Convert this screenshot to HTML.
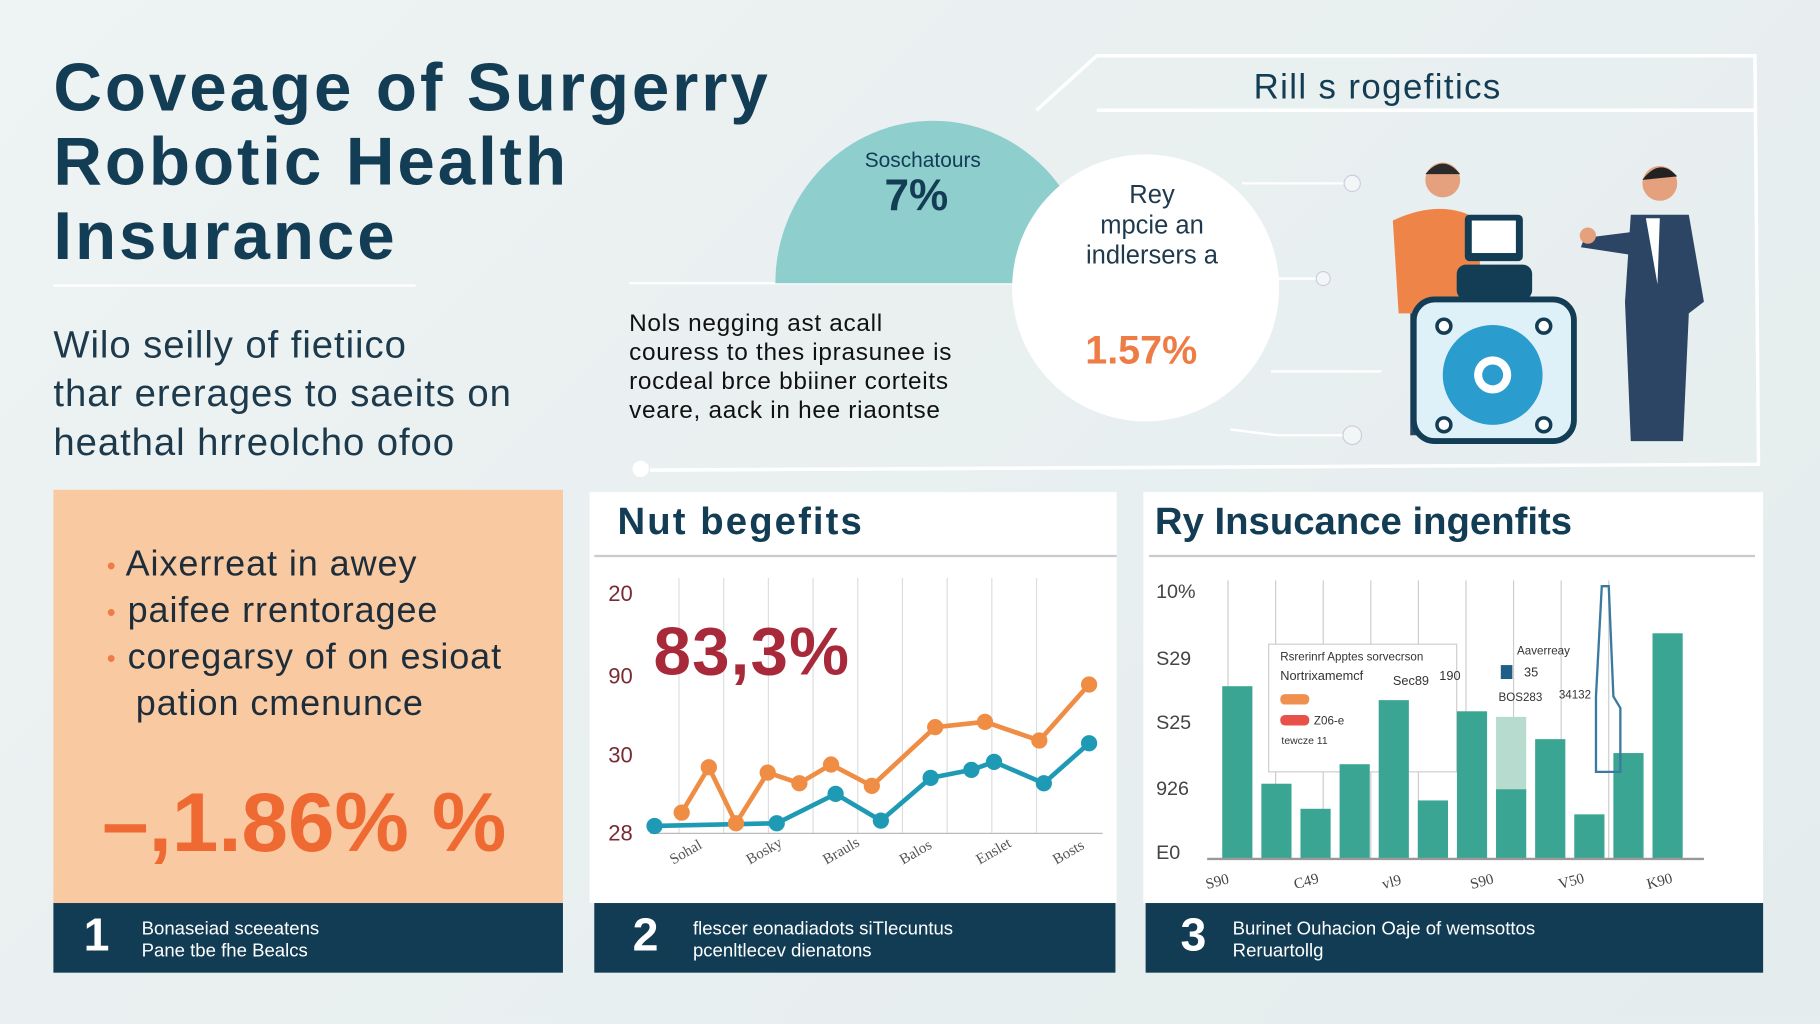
<!DOCTYPE html>
<html><head><meta charset="utf-8">
<style>
html,body{margin:0;padding:0;width:1820px;height:1024px;overflow:hidden;background:#e9f0f1;}
#s{position:absolute;left:0;top:0;width:1568px;height:882px;transform:scale(1.16071);transform-origin:0 0;font-family:"Liberation Sans",sans-serif;background:linear-gradient(135deg,#eef3f3,#e4eced);}
.a{position:absolute;}
.navy{color:#133c55;}
.bl div{height:40px;line-height:40px;white-space:nowrap;}
.bl span{color:#ee7c45;font-size:22px;line-height:22px;vertical-align:middle;}
</style></head><body>
<div id="s">
<div class="a navy" style="left:46px;top:44px;font-size:58px;letter-spacing:2.5px;font-weight:bold;line-height:64px;">Coveage of Surgerry<br>Robotic Health<br>Insurance</div>
<div class="a" style="left:46px;top:245px;width:312px;height:2px;background:#fff;"></div>
<div class="a" style="left:46px;top:276px;font-size:33px;letter-spacing:0.8px;line-height:42px;color:#1d3a4d;">Wilo seilly of fietiico<br>thar ererages to saeits on<br>heathal hrreolcho ofoo</div>

<svg class="a" style="left:0;top:0" width="1568" height="420">
<path d="M893,95 L945,48 L1512,48 L1515,400 L560,405" fill="none" stroke="#fff" stroke-width="3"/>
<line x1="945" y1="95" x2="1512" y2="95" stroke="#fff" stroke-width="3"/>
<line x1="542" y1="244" x2="880" y2="244" stroke="#fff" stroke-width="2"/>
<circle cx="552" cy="404" r="7" fill="#fff"/>
<path d="M668,244 A136,140 0 0 1 940,244 Z" fill="#8ecfcd"/>
<circle cx="987" cy="248" r="115" fill="#fff"/>
<g stroke="#fff" stroke-width="2" fill="none"><path d="M1070,158 L1165,158"/><path d="M1100,240 L1140,240"/><path d="M1095,320 L1190,320"/><path d="M1060,370 L1100,375 L1170,375"/></g>
<g fill="#f2f6f6" stroke="#ccd"><circle cx="1165" cy="158" r="7"/><circle cx="1140" cy="240" r="6"/><circle cx="1165" cy="375" r="8"/></g>
<circle cx="1243" cy="155" r="15" fill="#e5a07d"/><path d="M1228,150 Q1243,132 1258,150" fill="#2a2a2a"/>
<path d="M1200,190 Q1243,170 1275,190 L1275,270 L1205,270 Z" fill="#ee8447"/>
<rect x="1215" y="270" width="20" height="105" fill="#2e4560"/>
<rect x="1262" y="185" width="50" height="40" rx="4" fill="#133c55"/><rect x="1268" y="190" width="38" height="28" fill="#fff"/>
<rect x="1255" y="228" width="65" height="30" rx="8" fill="#133c55"/>
<rect x="1218" y="258" width="138" height="122" rx="18" fill="#dff1f8" stroke="#133c55" stroke-width="5"/>
<circle cx="1286" cy="323" r="43" fill="#2a9ccd"/><circle cx="1286" cy="323" r="16" fill="#fff"/><circle cx="1286" cy="323" r="9" fill="#2a9ccd"/>
<g fill="#fff" stroke="#133c55" stroke-width="3"><circle cx="1244" cy="281" r="6"/><circle cx="1330" cy="281" r="6"/><circle cx="1244" cy="366" r="6"/><circle cx="1330" cy="366" r="6"/></g>
<circle cx="1430" cy="158" r="15" fill="#e5a07d"/><path d="M1415,155 Q1430,135 1445,152" fill="#222"/>
<path d="M1405,185 L1455,185 L1468,260 L1455,270 L1450,380 L1405,380 L1400,260 Z" fill="#2c4565"/>
<path d="M1418,188 L1430,188 L1428,245 Z" fill="#fff"/>
<path d="M1405,200 L1365,205 L1362,213 L1408,220" fill="#2c4565"/>
<circle cx="1368" cy="203" r="7" fill="#e5a07d"/>
</svg>
<div class="a navy" style="left:1080px;top:59px;font-size:30px;letter-spacing:1.2px;">Rill s rogefitics</div>
<div class="a navy" style="left:745px;top:128px;font-size:18px;">Soschatours</div>
<div class="a navy" style="left:762px;top:148px;font-size:38px;font-weight:bold;">7%</div>
<div class="a" style="left:925px;top:155px;width:135px;text-align:center;font-size:22px;line-height:26px;color:#1e3a4d;">Rey<br>mpcie an<br>indlersers a</div>
<div class="a" style="left:935px;top:283px;font-size:34px;color:#ee7c45;font-weight:bold;">1.57%</div>
<div class="a" style="left:542px;top:266px;font-size:21px;letter-spacing:0.6px;line-height:25px;color:#111;">Nols negging ast acall<br>couress to thes iprasunee is<br>rocdeal brce bbiiner corteits<br>veare, aack in hee riaontse</div>

<div class="a" style="left:46px;top:422px;width:439px;height:356px;background:#f9c9a2;"></div>
<div class="a bl" style="left:92px;top:466px;font-size:31px;letter-spacing:0.8px;color:#1d2d3a;">
<div><span>•</span> Aixerreat in awey</div>
<div><span>•</span> paifee rrentoragee</div>
<div><span>•</span> coregarsy of on esioat</div>
<div style="padding-left:25px">pation cmenunce</div></div>
<div class="a" style="left:88px;top:668px;font-size:72px;font-weight:bold;color:#ef6a32;">–,1.86% %</div>

<div class="a" style="left:508px;top:424px;width:454px;height:354px;background:#fff;"></div>
<div class="a navy" style="left:532px;top:430px;font-size:33px;letter-spacing:1.8px;font-weight:bold;">Nut begefits</div>
<div class="a" style="left:512px;top:478px;width:450px;height:2px;background:#c8cccf;"></div>
<div class="a" style="left:985px;top:424px;width:534px;height:354px;background:#fff;"></div>
<div class="a navy" style="left:995px;top:430px;font-size:33px;font-weight:bold;">Ry Insucance ingenfits</div>
<div class="a" style="left:990px;top:478px;width:522px;height:2px;background:#c8cccf;"></div>

<svg id="lc" class="a" style="left:0;top:0" width="1568" height="882"></svg>
<div class="a" style="left:563px;top:528px;font-size:58px;letter-spacing:1px;font-weight:bold;color:#a82a3a;">83,3%</div>

<div class="a" style="left:46px;top:778px;width:439px;height:60px;background:#123c54;color:#fff;">
<span class="a" style="left:26px;top:6px;font-size:40px;font-weight:bold;">1</span><span class="a" style="left:76px;top:13px;font-size:16px;line-height:19px;">Bonaseiad sceeatens<br>Pane tbe fhe Bealcs</span></div>
<div class="a" style="left:512px;top:778px;width:449px;height:60px;background:#123c54;color:#fff;">
<span class="a" style="left:33px;top:6px;font-size:40px;font-weight:bold;">2</span><span class="a" style="left:85px;top:13px;font-size:16px;line-height:19px;">flescer eonadiadots siTlecuntus<br>pcenltlecev dienatons</span></div>
<div class="a" style="left:987px;top:778px;width:532px;height:60px;background:#123c54;color:#fff;">
<span class="a" style="left:30px;top:6px;font-size:40px;font-weight:bold;">3</span><span class="a" style="left:75px;top:13px;font-size:16px;line-height:19px;">Burinet Ouhacion Oaje of wemsottos<br>Reruartollg</span></div>

<script>
var lineYTicks=["20","90","30","28"];
var lineXLabels=["Sohal","Bosky","Brauls","Balos","Enslet","Bosts"];
var orangeX=[7,13,19,26,33,40,49,63,74,86,97];
var orangeV=[13,30,9,28,24,31,23,45,47,40,61];
var blueX=[1,28,41,51,62,71,76,87,97];
var blueV=[8,9,20,10,26,29,32,24,39];
var barYTicks=["10%","S29","S25","926","E0"];
var barXLabels=["S90","C49","vl9","S90","V50","K90"];
var barV=[62,27,18,34,57,21,53,51,43,16,38,81];
var barDark=[62,27,18,34,57,21,53,25,43,16,38,81];

var NS="http://www.w3.org/2000/svg";
function mk(p,t,a){var e=document.createElementNS(NS,t);for(var k in a)e.setAttribute(k,a[k]);p.appendChild(e);return e;}
var svg=document.getElementById('lc');
function lx(v){return 560+v*3.9;}
function ly(v){return 730-v*2.3;}
for(var i=0;i<9;i++){var g=mk(svg,'line',{x1:585+i*38.5,y1:498,x2:585+i*38.5,y2:718,stroke:'#ddd'});

}
var ax=mk(svg,'line',{x1:560,y1:718,x2:950,y2:718,stroke:'#bbb'});


var tyl=[511,582,650,717];
lineYTicks.forEach(function(t,i){var e=mk(svg,'text',{x:524,y:tyl[i]+7,'font-size':19,fill:'#7a2a33','font-family':'Liberation Sans'});e.textContent=t;

});
lineXLabels.forEach(function(t,i){var x=580+i*66;var e=mk(svg,'text',{x:x,y:745,'font-size':13,fill:'#555','font-family':'Liberation Serif',transform:'rotate(-30 '+x+' 745)'});e.textContent=t;

});
function series(xs,vs,c,name){var d=xs.map(function(x,i){return lx(x)+','+ly(vs[i]);}).join(' ');
var p=mk(svg,'polyline',{points:d,fill:'none',stroke:c,'stroke-width':4,'stroke-linejoin':'round'});


xs.forEach(function(x,i){var c1=mk(svg,'circle',{cx:lx(x),cy:ly(vs[i]),r:7,fill:c});

});}
series(blueX,blueV,'#1f9ab5','blue-series');
series(orangeX,orangeV,'#ef8d44','orange-series');

function by(v){return 740-v*2.4;}
for(var i=0;i<9;i++){var g=mk(svg,'line',{x1:1058+i*41,y1:500,x2:1058+i*41,y2:740,stroke:'#ccc'});

}
var tb=[508,566,621,678,733];
barYTicks.forEach(function(t,i){var e=mk(svg,'text',{x:996,y:tb[i]+7,'font-size':17,fill:'#444','font-family':'Liberation Sans Narrow, Liberation Sans'});e.textContent=t;

});
var lg=mk(svg,'rect',{x:1093,y:555,width:162,height:110,fill:'#fff',stroke:'#ccc'});


barV.forEach(function(v,i){var x=1053+i*33.7;
var r=mk(svg,'rect',{x:x,y:by(v),width:26,height:by(0)-by(v),fill:(i==7?'#b8dbd0':'#3aa593')});


if(barDark[i]!=v){var r2=mk(svg,'rect',{x:x,y:by(barDark[i]),width:26,height:by(0)-by(barDark[i]),fill:'#3aa593'});

}});
var bx=mk(svg,'line',{x1:1040,y1:740,x2:1468,y2:740,stroke:'#999','stroke-width':2});


barXLabels.forEach(function(t,i){var x=1040+i*76;var e=mk(svg,'text',{x:x,y:766,'font-size':13,fill:'#444','font-family':'Liberation Serif',transform:'rotate(-15 '+x+' 766)'});e.textContent=t;

});
var lt=[["Rsrerinrf Apptes sorvecrson",1103,569,10],["Nortrixamemcf",1103,586,11],["Sec89",1200,590,11],["190",1240,586,11],["Z06-e",1132,624,10],["tewcze 11",1104,641,9],["Aaverreay",1307,564,10],["35",1313,583,11],["BOS283",1291,604,10],["34132",1343,602,10]];
lt.forEach(function(a){var e=mk(svg,'text',{x:a[1],y:a[2],'font-size':a[3],fill:'#333','font-family':'Liberation Sans'});e.textContent=a[0];

});
var s1=mk(svg,'rect',{x:1103,y:598,width:25,height:9,rx:4,fill:'#f0904f'});


var s2=mk(svg,'rect',{x:1103,y:616,width:25,height:9,rx:4,fill:'#e9504a'});


var s3=mk(svg,'rect',{x:1293,y:573,width:10,height:12,fill:'#1f5f85'});


var tool=mk(svg,'path',{d:'M1380,505 L1386,505 L1390,600 L1396,610 L1396,665 L1375,665 L1375,600 Z',fill:'none',stroke:'#3b7aa0','stroke-width':2});


</script>
</div>
</body></html>
